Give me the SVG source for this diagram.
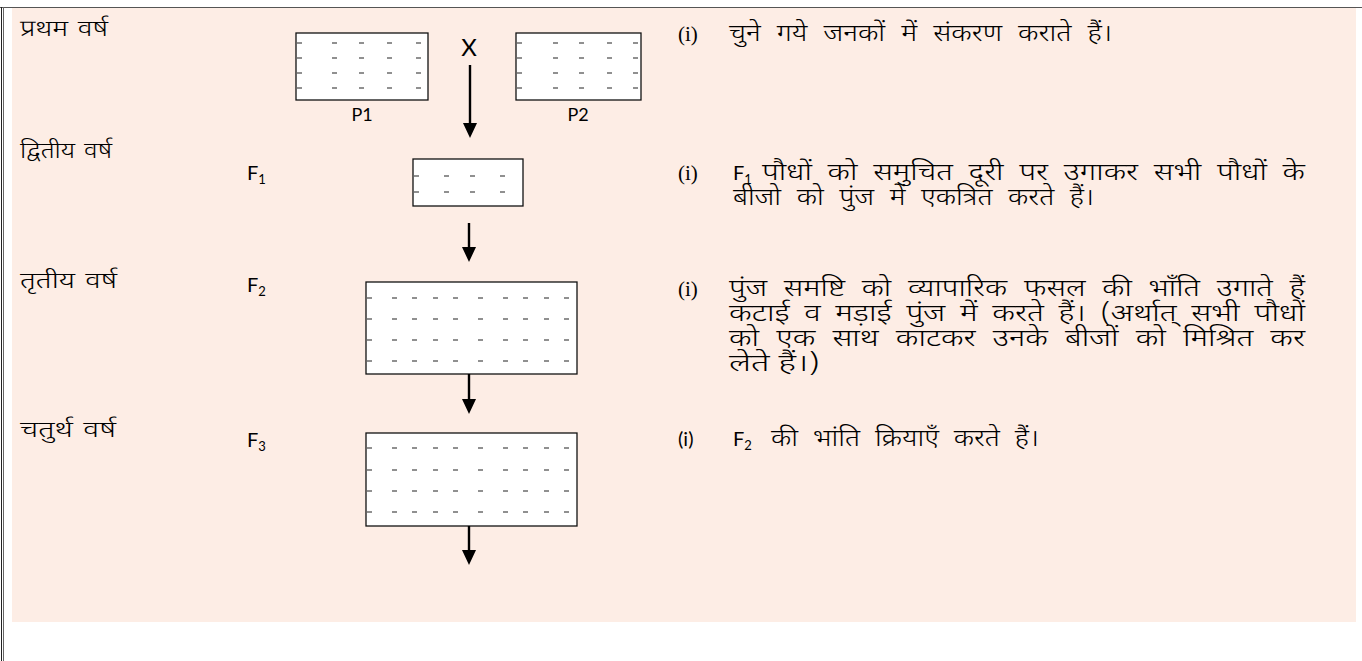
<svg xmlns="http://www.w3.org/2000/svg" width="1362" height="661" viewBox="0 0 1362 661">
<style>
.bg{fill:#fdede5}
.frame{stroke:#555;fill:none}
.box{fill:#fff;stroke:#111;stroke-width:1.3}
.dash{stroke:#222;stroke-width:1.1;fill:none}
.conn{stroke:#000;stroke-width:2.4;fill:none}
.dv{font-family:"Noto Sans Devanagari","Lohit Devanagari","Noto Sans",sans-serif;fill:#000;font-weight:300}
.lbl{font-size:23px}
.txt{font-size:24px}
.sans{font-family:Lato,"Open Sans","Liberation Sans",sans-serif;fill:#000}
.serif{font-family:"Liberation Serif",serif;font-size:21px;fill:#000}
</style>
<defs>
<marker id="ah" viewBox="0 0 15 14" refX="7" refY="7" markerWidth="15" markerHeight="14" markerUnits="userSpaceOnUse" orient="auto">
<path d="M0,0 L15,7 L0,14 z" fill="#000"/>
</marker>
</defs>
<rect class="bg" x="12" y="8" width="1344" height="614"/>
<line class="frame" x1="0" y1="7.5" x2="1362" y2="7.5"/>
<line x1="1.5" y1="7" x2="1.5" y2="661" stroke="#222" stroke-width="1"/>
<line x1="3.5" y1="7" x2="3.5" y2="661" stroke="#666" stroke-width="1"/>

<g id="labels">
<text class="dv lbl" x="20" y="36" word-spacing="2" textLength="88" lengthAdjust="spacingAndGlyphs">प्रथम वर्ष</text>
<text class="dv lbl" x="20" y="158" word-spacing="2" textLength="92" lengthAdjust="spacingAndGlyphs">द्वितीय वर्ष</text>
<text class="dv lbl" x="20" y="288" word-spacing="2" textLength="97" lengthAdjust="spacingAndGlyphs">तृतीय वर्ष</text>
<text class="dv lbl" x="20" y="437" word-spacing="2" textLength="96" lengthAdjust="spacingAndGlyphs">चतुर्थ वर्ष</text>
<text class="sans" font-size="20" x="247" y="180">F<tspan font-size="13" dy="4">1</tspan></text>
<text class="sans" font-size="20" x="247" y="292">F<tspan font-size="13" dy="4">2</tspan></text>
<text class="sans" font-size="20" x="247" y="447">F<tspan font-size="13" dy="4">3</tspan></text>
</g>

<g id="p1">
<rect class="box" x="296" y="33" width="132" height="67"/>
<path class="dash" d="M297 43h5M332 43h5M359 43h5M387 43h5M416 43h5M297 58h5M332 58h5M359 58h5M387 58h5M416 58h5M297 73h5M332 73h5M359 73h5M387 73h5M416 73h5M297 88h5M332 88h5M359 88h5M387 88h5M416 88h5"/>
<text class="sans" font-size="18" x="362" y="121" text-anchor="middle">P1</text>
</g>
<g id="cross">
<text class="sans" font-size="24" x="469" y="56" text-anchor="middle">X</text>
</g>
<g id="p2">
<rect class="box" x="516" y="33" width="125" height="67"/>
<path class="dash" d="M517 43h5M553 43h5M579 43h5M607 43h5M633 43h5M517 58h5M553 58h5M579 58h5M607 58h5M633 58h5M517 73h5M553 73h5M579 73h5M607 73h5M633 73h5M517 88h5M553 88h5M579 88h5M607 88h5M633 88h5"/>
<text class="sans" font-size="18" x="578" y="121" text-anchor="middle">P2</text>
</g>
<g id="f1">
<rect class="box" x="413" y="159" width="110" height="47"/>
<path class="dash" d="M414 176h5M444 176h5M470 176h5M500 176h5M414 192h5M444 192h5M470 192h5M500 192h5"/>
</g>
<g id="f2">
<rect class="box" x="366" y="282" width="211" height="92"/>
<path class="dash" d="M367 298h5M392 298h5M412 298h5M433 298h5M453 298h5M478 298h5M503 298h5M523 298h5M544 298h5M564 298h5M367 319h5M392 319h5M412 319h5M433 319h5M453 319h5M478 319h5M503 319h5M523 319h5M544 319h5M564 319h5M367 340h5M392 340h5M412 340h5M433 340h5M453 340h5M478 340h5M503 340h5M523 340h5M544 340h5M564 340h5M367 361h5M392 361h5M412 361h5M433 361h5M453 361h5M478 361h5M503 361h5M523 361h5M544 361h5M564 361h5"/>
</g>
<g id="f3">
<rect class="box" x="366" y="433" width="211" height="93"/>
<path class="dash" d="M367 448h5M392 448h5M412 448h5M433 448h5M453 448h5M478 448h5M503 448h5M523 448h5M544 448h5M564 448h5M367 470h5M392 470h5M412 470h5M433 470h5M453 470h5M478 470h5M503 470h5M523 470h5M544 470h5M564 470h5M367 491h5M392 491h5M412 491h5M433 491h5M453 491h5M478 491h5M503 491h5M523 491h5M544 491h5M564 491h5M367 512h5M392 512h5M412 512h5M433 512h5M453 512h5M478 512h5M503 512h5M523 512h5M544 512h5M564 512h5"/>
</g>

<g id="connectors">
<line class="conn" x1="470" y1="65" x2="470" y2="130" marker-end="url(#ah)"/>
<line class="conn" x1="469" y1="223" x2="469" y2="254" marker-end="url(#ah)"/>
<line class="conn" x1="469" y1="374" x2="469" y2="406" marker-end="url(#ah)"/>
<line class="conn" x1="469" y1="526" x2="469" y2="557" marker-end="url(#ah)"/>
</g>

<g id="notes">
<text class="serif" x="678" y="41">(i)</text>
<text class="dv txt" x="729" y="41" word-spacing="7.4" textLength="383" lengthAdjust="spacingAndGlyphs">चुने गये जनकों में संकरण कराते हैं।</text>

<text class="serif" x="678" y="180">(i)</text>
<text class="sans" font-size="20" x="733" y="180">F<tspan font-size="13" dy="4">1</tspan></text>
<text class="dv txt" x="762" y="180" word-spacing="6" textLength="543" lengthAdjust="spacingAndGlyphs">पौधों को समुचित दूरी पर उगाकर सभी पौधों के</text>
<text class="dv txt" x="733" y="205" word-spacing="7.2" textLength="361" lengthAdjust="spacingAndGlyphs">बीजो को पुंज में एकत्रित करते हैं।</text>

<text class="serif" x="678" y="296">(i)</text>
<text class="dv txt" x="729" y="296" word-spacing="7" textLength="576" lengthAdjust="spacingAndGlyphs">पुंज समष्टि को व्यापारिक फसल की भाँति उगाते हैं</text>
<text class="dv txt" x="729" y="321" word-spacing="5" textLength="576" lengthAdjust="spacingAndGlyphs">कटाई व मड़ाई पुंज में करते हैं। (अर्थात् सभी पौधों</text>
<text class="dv txt" x="729" y="346" word-spacing="7" textLength="576" lengthAdjust="spacingAndGlyphs">को एक साथ काटकर उनके बीजों को मिश्रित कर</text>
<text class="dv txt" x="729" y="371" textLength="91" lengthAdjust="spacingAndGlyphs">लेते हैं।)</text>

<text class="sans" font-size="20" x="678" y="446">(i)</text>
<text class="sans" font-size="20" x="733" y="446">F<tspan font-size="13" dy="4">2</tspan></text>
<text class="dv txt" x="771" y="446" word-spacing="6.6" textLength="268" lengthAdjust="spacingAndGlyphs">की भांति क्रियाएँ करते हैं।</text>
</g>
</svg>
